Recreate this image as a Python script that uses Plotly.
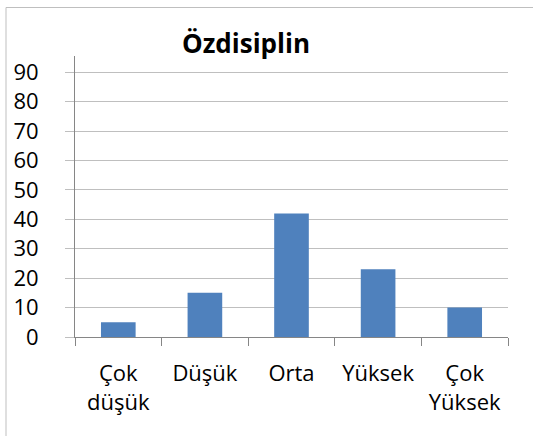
import plotly.graph_objects as go

categories = ["Çok<br>düşük", "Düşük", "Orta", "Yüksek", "Çok<br>Yüksek"]
values = [5, 15, 42, 23, 10]
y_ticks = [0, 10, 20, 30, 40, 50, 60, 70, 80, 90]
title_text = "Özdisiplin"

W, H = 533, 436
L, T = 75, 56
R = W - 508
B = H - 337
pw, ph = W - L - R, H - T - B

fig = go.Figure(go.Bar(x=categories, y=values, marker=dict(color="#4F81BD", line=dict(width=0)), width=0.4))

font = "Open Sans, Noto Sans, sans-serif"
fig.update_layout(
    width=W, height=H,
    margin=dict(l=L, r=R, t=T, b=B, pad=0),
    paper_bgcolor="white", plot_bgcolor="white",
    showlegend=False,
    font=dict(family=font, size=22, color="black"),
    title=dict(text="<b>" + title_text + "</b>", x=(246 - L) / pw, xref="paper", xanchor="center",
               y=(H - 44) / H, yanchor="middle", font=dict(size=26, family=font, color="black")),
    xaxis=dict(showline=True, linecolor="#868686", linewidth=1, ticks="outside", tickson="boundaries",
               ticklen=8, tickcolor="#868686", showgrid=False, tickfont=dict(size=22),
               ticklabelstandoff=17),
    yaxis=dict(range=[0, 95.5], tickvals=y_ticks, showline=True, linecolor="#868686", linewidth=1,
               ticks="outside", ticklen=9, tickcolor="#BFBFBF", gridcolor="#BFBFBF", gridwidth=1,
               zeroline=False, tickfont=dict(size=22), ticklabelstandoff=22),
    shapes=[dict(type="rect", xref="paper", yref="paper",
                 x0=(6 - L) / pw, x1=1.2, y0=-0.5, y1=(337 - 7.5) / ph,
                 line=dict(color="#BFBFBF", width=1), fillcolor="rgba(0,0,0,0)", layer="below")],
)

fig.write_html("out.html", config={"displayModeBar": False},
               post_script="document.body.style.margin='0px';document.body.style.overflow='hidden';")
